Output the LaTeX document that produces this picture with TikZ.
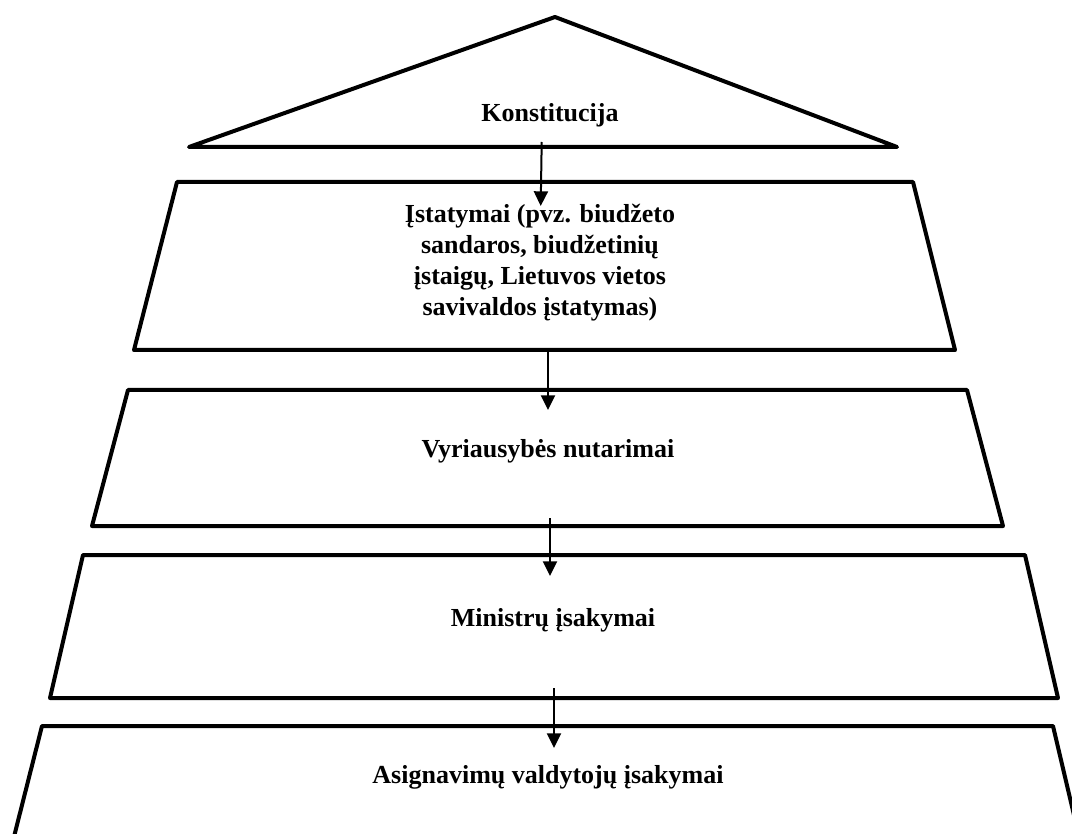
\documentclass[tikz,border=0pt]{standalone}
\usepackage{fontspec}
\setmainfont{Liberation Serif}
\usetikzlibrary{arrows.meta}
\tikzset{
  tier/.style={draw, line width=3pt, line join=round},
  tiertext/.style={font=\bfseries\fontsize{19.5}{23.25}\selectfont, align=center},
  downarrow/.style={line width=1.5pt, -{Triangle[length=11pt,width=10.5pt]}}
}
\begin{document}
\begin{tikzpicture}[x=0.75pt,y=-0.75pt]
                \useasboundingbox (0,0) rectangle (1072,834);
                \clip (0,0) rectangle (1072,834);
                % piramides pakopos
                \draw[tier] (555,17) -- (897,147) -- (189,147) -- cycle;
                \draw[tier] (177,182) -- (913,182) -- (955,350) -- (134,350) -- cycle;
                \draw[tier] (128,390) -- (967,390) -- (1003,526) -- (92,526) -- cycle;
                \draw[tier] (83,555) -- (1025,555) -- (1058,698) -- (50,698) -- cycle;
                \draw[tier] (42,726) -- (1053,726) -- (1094,900) -- (-2,900) -- cycle;
                % tekstai
                \node[tiertext] (konst) at (550,115) {Konstitucija};
                \node[tiertext] (istat) at (540,263) {Įstatymai (pvz. biudžeto\\sandaros, biudžetinių\\įstaigų, Lietuvos vietos\\savivaldos įstatymas)};
                \node[tiertext] (vyr) at (548,451) {Vyriausybės nutarimai};
                \node[tiertext] (minist) at (553,620) {Ministrų įsakymai};
                \node[tiertext] (asign) at (548,777) {Asignavimų valdytojų įsakymai};
                % rodykles
                \coordinate (k1) at (541.7,142);
                \coordinate (k2) at (540.7,206);
                \coordinate (i1) at (548,350);
                \coordinate (i2) at (548,410);
                \coordinate (v1) at (550,518);
                \coordinate (v2) at (550,576);
                \coordinate (m1) at (554,688);
                \coordinate (m2) at (554,748);
                \draw[downarrow] (k1) -- (k2);
                \draw[downarrow] (i1) -- (i2);
                \draw[downarrow] (v1) -- (v2);
                \draw[downarrow] (m1) -- (m2);
            \end{tikzpicture}
\end{document}
